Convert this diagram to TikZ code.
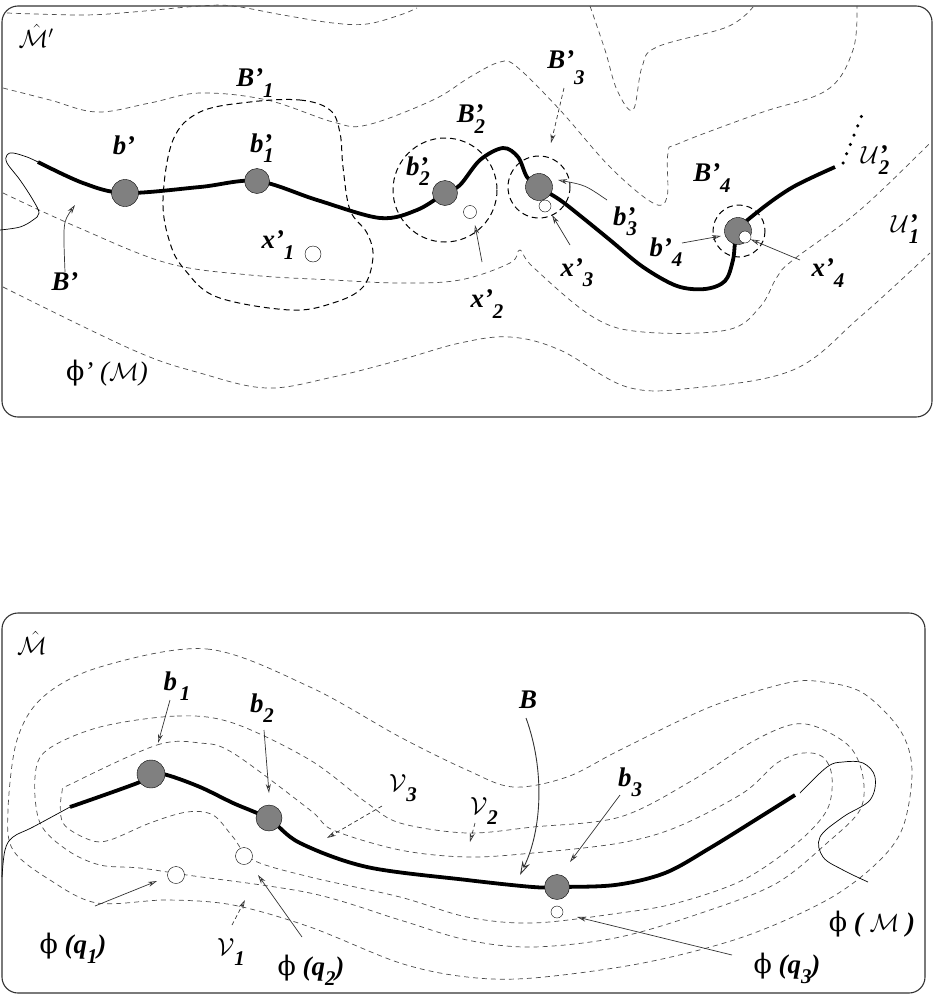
\documentclass[tikz,border=0pt]{standalone}
\usepackage{fontspec}
\setmainfont{Liberation Serif}
\newfontfamily\phifont{DejaVu Serif}
\usetikzlibrary{arrows.meta}
\newcommand{\lsub}[1]{\raisebox{-0.38em}{\fontsize{21}{21}\selectfont #1}}
\newcommand{\pafter}[2]{#1’\lsub{#2}}
\newcommand{\pstack}[2]{#1\rlap{’}\lsub{#2}}
\newcommand{\phis}{{\phifont\mdseries\upshape ϕ}}
\begin{document}
\begin{tikzpicture}[x=1bp,y=-1bp,
      lbl/.style={font=\fontsize{27}{30}\selectfont\bfseries\itshape,inner sep=1bp},
      frame/.style={draw=black!80,line width=1.1bp,rounded corners=16bp},
      lvl/.style={draw=black!70,line width=0.7bp,dash pattern=on 5bp off 4bp},
      reg/.style={draw=black,line width=1bp,dash pattern=on 6bp off 4bp},
      curveB/.style={line width=3.8bp},
      thinline/.style={line width=0.7bp},
      dot/.style={circle,draw,thin,fill=gray,inner sep=0pt,minimum size=#1},
      hole/.style={circle,draw,thin,fill=white,inner sep=0pt,minimum size=#1},
      ptr/.style={draw=black!80,line width=0.7bp,-{Stealth[open,length=9bp,width=5bp]}},
      dptr/.style={ptr,dash pattern=on 4bp off 3bp},
      ]
        \useasboundingbox (0,0) rectangle (934,995);

        % upper picture
        \draw [frame] (2,6) rectangle (932,417);
        \draw [lvl] plot [smooth,tension=0.6] coordinates {(7,13) (83,15) (133,12)
          (200,6) (233,6) (283,15) (333,23) (367,24) (400,15) (417,8)};
        \draw [lvl] plot [smooth,tension=0.6] coordinates {(3,88) (50,100) (97,112)
          (150,103) (200,93) (267,100) (333,122) (367,125) (433,100) (470,77)
          (500,62) (517,67) (560,110) (610,167) (653,203) (667,197) (668,153)
          (680,143) (760,113) (827,90) (853,50) (857,6)};
        \draw [lvl] plot [smooth,tension=0.6] coordinates {(590,6) (605,50)
          (617,90) (633,110) (642,67) (657,47) (727,27) (753,7)};
        \draw [lvl] plot [smooth,tension=0.6] coordinates {(3,193) (77,227)
          (167,263) (250,275) (333,280) (400,283) (460,280) (510,263) (520,250)
          (533,267) (593,317) (643,332) (727,330) (760,307) (777,277) (793,260)
          (860,210) (930,143)};
        \draw [lvl] plot [smooth,tension=0.6] coordinates {(3,287) (133,350)
          (200,373) (267,388) (333,377) (400,360) (460,343) (510,337) (560,350)
          (627,387) (693,388) (793,370) (860,317) (930,253)};

        \draw [reg] plot [smooth cycle,tension=0.6] coordinates {(250,102) (300,100)
          (330,110) (340,133) (343,167) (350,210) (367,233) (373,257) (363,287)
          (333,303) (290,310) (217,297) (185,270) (170,243) (163,200) (173,140)
          (200,112)};
        \draw [reg] (445,190) circle [radius=52];
        \draw [reg] (539,187) circle [radius=31];
        \draw [reg] (739,231) circle [radius=26];

        \draw [thinline] plot [smooth,tension=0.6] coordinates {(0,230) (20,227)
          (33,220) (39,213) (33,200) (20,180) (7,163) (7,155) (13,153) (27,157)
          (38,162)};
        \draw [curveB] plot [smooth,tension=0.55] coordinates {(38,162) (83,183)
          (125,193) (200,187) (257,181) (317,200) (380,218) (417,210) (445,193)
          (460,185) (480,160) (503,148) (518,157) (527,177) (539,187) (560,200)
          (583,218) (610,240) (643,267) (677,286) (705,289) (725,281) (733,260)
          (738,231) (760,210) (793,187) (835,167)};
        \draw [line width=3.5bp,line cap=round,dash pattern=on 0bp off 10bp]
          (843,163) -- (862,115);

        \node [dot=27bp] (bp) at (125,193) {};
        \node [dot=25bp] (bp1) at (257,181) {};
        \node [dot=25bp] (bp2) at (445,193) {};
        \node [dot=27bp] (bp3) at (539,187) {};
        \node [dot=27bp] (bp4) at (738,231) {};
        \node [hole=16bp] (xp1) at (313,254) {};
        \node [hole=13bp] (xp2) at (470,212) {};
        \node [hole=12bp] (xp3) at (545,206) {};
        \node [hole=12bp] (xp4) at (745,237) {};

        \node [lbl] (lMp) at (36,36) {$\hat{\mathcal{M}}'$};
        \node [lbl] (lBp) at (65,282) {B’};
        \node [lbl] (lbp) at (124,145) {b’};
        \node [lbl] (lBp1) at (255,83) {\pafter{B}{1}};
        \node [lbl] (lbp1) at (262,148) {\pstack{b}{1}};
        \node [lbl] (lxp1) at (278,245) {\pafter{x}{1}};
        \node [lbl] (lbp2) at (418,171) {\pstack{b}{2}};
        \node [lbl] (lBp2) at (471,119) {\pstack{B}{2}};
        \node [lbl] (lxp2) at (487,304) {\pafter{x}{2}};
        \node [lbl] (lBp3) at (566,68) {B’\raisebox{-0.6em}{\fontsize{21}{21}\selectfont 3}};
        \node [lbl] (lxp3) at (577,273) {\pafter{x}{3}};
        \node [lbl] (lbp3) at (625,221) {\pstack{b}{3}};
        \node [lbl] (lbp4) at (666,252) {\pafter{b}{4}};
        \node [lbl] (lBp4) at (712,178) {\pafter{B}{4}};
        \node [lbl] (lxp4) at (828,273) {\pafter{x}{4}};
        \node [lbl] (lUp2) at (875,160) {$\mathcal{U}$\rlap{’}\lsub{2}};
        \node [lbl] (lUp1) at (905,229) {$\mathcal{U}$\rlap{’}\lsub{1}};
        \node [lbl,font=\fontsize{27}{30}\selectfont\itshape] (lphip) at (107,373) {\phis’ ($\mathcal{M}$)};

        \coordinate (tBp) at (75,205);
        \coordinate (sxp2) at (482,262);
        \coordinate (sxp3) at (570,245);
        \coordinate (sbp3) at (607,200);
        \coordinate (sbp4) at (682,243);
        \coordinate (sxp4) at (800,260);
        \coordinate (sBp3) at (564,88);
        \draw [ptr] (lBp.north) .. controls (63,222) .. (tBp);
        \draw [ptr] (sxp2) -- (475,225);
        \draw [ptr] (sxp3) -- (552,215);
        \draw [ptr] (sbp3) .. controls (585,185) .. (558,180);
        \draw [ptr] (sbp4) -- (721,236);
        \draw [ptr] (sxp4) -- (xp4);
        \draw [dptr] (sBp3) -- (551,143);

        % lower picture
        \draw [frame] (2,613) rectangle (925,993);
        \draw [lvl] plot [smooth cycle,tension=0.55] coordinates {(100,667) (207,649)
          (310,687) (400,737) (467,770) (513,787) (567,777) (620,750) (710,707)
          (787,683) (823,682) (863,693) (900,730) (912,770) (903,827) (877,863)
          (827,900) (743,937) (643,963) (533,978) (467,977) (400,963) (310,927)
          (233,905) (167,900) (97,903) (50,880) (13,850) (8,810) (17,740) (43,697)};
        \draw [lvl] plot [smooth cycle,tension=0.55] coordinates {(100,727) (177,716)
          (233,723) (310,760) (367,803) (400,823) (467,833) (533,827) (620,817)
          (693,780) (750,743) (790,725) (817,727) (850,747) (863,777) (860,810)
          (827,843) (777,883) (710,910) (620,937) (533,947) (467,940) (400,920)
          (310,893) (187,875) (140,868) (100,865) (67,850) (40,823) (35,777) (47,750)};
        \draw [lvl] plot [smooth cycle,tension=0.55] coordinates {(73,783) (157,745)
          (200,743) (233,753) (310,810) (333,830) (400,850) (467,857) (533,853)
          (620,843) (677,827) (743,793) (777,763) (803,753) (823,757) (832,777)
          (827,810) (797,843) (743,880) (677,903) (620,913) (533,923) (467,917)
          (400,897) (310,877) (253,860) (233,837) (213,815) (187,812) (150,823)
          (110,840) (90,840) (63,823) (62,792)};

        \draw [thinline] plot [smooth,tension=0.6] coordinates {(2,877) (5,850)
          (13,837) (33,827) (70,807)};
        \draw [thinline] plot [smooth,tension=0.6] coordinates {(800,793) (827,767)
          (843,762) (863,763) (875,777) (870,800) (843,817) (820,837) (823,857)
          (843,870) (868,882)};
        \draw [curveB] plot [smooth,tension=0.55] coordinates {(70,807) (140,782)
          (151,774) (167,775) (200,787) (233,803) (269,819) (300,843) (367,867)
          (467,880) (533,887) (557,887) (615,885) (665,873) (710,848) (760,817)
          (795,795)};

        \node [dot=28bp] (b1) at (151,774) {};
        \node [dot=26bp] (b2) at (269,818) {};
        \node [dot=25bp] (b3) at (557,887) {};
        \node [hole=17bp] (q1) at (176,875) {};
        \node [hole=17bp] (q2) at (244,856) {};
        \node [hole=12bp] (q3) at (557,912) {};

        \node [lbl] (lM) at (32,643) {$\hat{\mathcal{M}}$};
        \node [lbl] (lb1) at (177,686) {b\hspace{3bp}\lsub{1}};
        \node [lbl] (lb2) at (262,708) {b\lsub{2}};
        \node [lbl] (lB) at (528,700) {B};
        \node [lbl] (lb3) at (630,782) {b\lsub{3}};
        \node [lbl] (lV3) at (403,788) {$\mathcal{V}$\lsub{3}};
        \node [lbl] (lV2) at (484,811) {$\mathcal{V}$\lsub{2}};
        \node [lbl] (lV1) at (231,952) {$\mathcal{V}$\lsub{1}};
        \node [lbl] (lq1) at (73,948) {\phis\ (q\lsub{1})};
        \node [lbl] (lq2) at (311,970) {\phis\ (q\lsub{2})};
        \node [lbl] (lq3) at (787,968) {\phis\ (q\lsub{3})};
        \node [lbl] (lphi) at (872,924) {\phis\ ( $\mathcal{M}$ )};

        \coordinate (sb1) at (170,700);
        \coordinate (sb2) at (264,730);
        \coordinate (sB) at (526,718);
        \coordinate (sb3) at (620,795);
        \coordinate (sV3) at (382,806);
        \coordinate (sV2) at (475,823);
        \coordinate (sV1) at (232,925);
        \coordinate (sq1) at (95,906);
        \coordinate (sq2) at (302,937);
        \coordinate (sq3) at (732,955);
        \draw [ptr] (sb1) -- (158,743);
        \draw [ptr] (sb2) -- (269,793);
        \draw [ptr,line width=0.9bp,-{Stealth[open,length=14bp,width=8bp]}]
          (sB) .. controls (545,770) and (542,830) .. (520,875);
        \draw [ptr] (sb3) -- (570,862);
        \draw [dptr] (sV3) -- (327,838);
        \draw [dptr] (sV2) -- (470,842);
        \draw [dptr] (sV1) -- (245,900);
        \draw [ptr] (sq1) -- (157,881);
        \draw [ptr] (sq2) -- (258,875);
        \draw [ptr] (sq3) -- (577,917);
      \end{tikzpicture}
\end{document}
